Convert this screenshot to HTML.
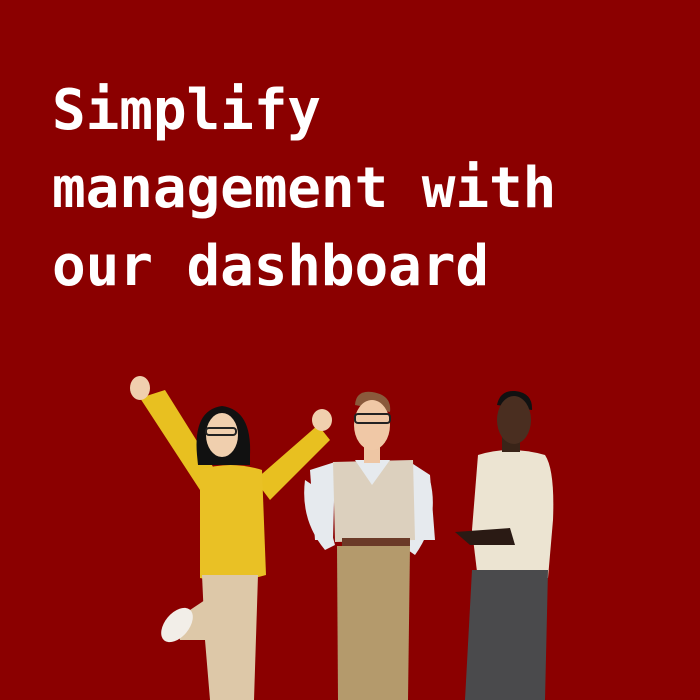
<!DOCTYPE html>
<html><head><meta charset="utf-8"><style>
html,body{margin:0;padding:0}
body{width:700px;height:700px;background:#8b0000;position:relative;overflow:hidden}
.t{position:absolute;left:52px;top:72px;color:#fff;font-family:"DejaVu Sans Mono","Liberation Mono",monospace;font-weight:bold;font-size:56px;line-height:78px;letter-spacing:-0.1px;white-space:pre}
svg{position:absolute;left:0;top:0}
</style></head><body>
<div class="t">Simplify
management with
our dashboard</div>
<svg width="700" height="700" viewBox="0 0 700 700">
<path d="M140 398 L165 390 L215 470 L200 490 Z" fill="#e8c020"/>
<path d="M318 425 L330 440 L270 500 L255 480 Z" fill="#e8c020"/>
<ellipse cx="140" cy="388" rx="10" ry="12" fill="#f0cfae"/>
<ellipse cx="322" cy="420" rx="10" ry="11" fill="#f0cfae"/>
<path d="M200 470 Q230 460 262 470 L266 575 Q232 585 200 578 Z" fill="#e9c125"/>
<path d="M202 575 L258 575 L254 700 L210 700 L205 640 Z" fill="#ddc8a8"/>
<path d="M205 600 L215 640 L180 640 L175 620 Z" fill="#ddc8a8"/>
<ellipse cx="177" cy="625" rx="12" ry="20" transform="rotate(40 177 625)" fill="#f2eee8"/>
<path d="M197 455 Q193 410 222 406 Q252 410 250 455 L250 465 L198 465 Z" fill="#111"/>
<ellipse cx="222" cy="435" rx="16" ry="22" fill="#f0cfae"/>
<rect x="206" y="428" width="30" height="7" rx="3" fill="none" stroke="#222" stroke-width="2"/>
<path d="M310 470 L335 462 L333 540 L315 540 Z" fill="#e6eaee"/>
<path d="M410 462 L430 475 L435 540 L415 540 Z" fill="#e6eaee"/>
<path d="M305 480 Q300 520 325 550 L335 545 L320 490 Z" fill="#e6eaee"/>
<path d="M430 480 Q440 520 415 555 L405 548 L420 490 Z" fill="#e6eaee"/>
<path d="M333 462 L413 460 L415 540 L335 542 Z" fill="#dcd0be"/>
<path d="M355 460 L372 485 L390 460 Z" fill="#e6eaee"/>
<rect x="342" y="538" width="68" height="10" fill="#6b3a28"/>
<path d="M337 546 L410 546 L408 700 L338 700 Z" fill="#b49a6c"/>
<rect x="364" y="445" width="16" height="18" fill="#eec6a4"/>
<path d="M355 405 Q356 390 372 392 Q392 395 390 412 Z" fill="#8a5a3c"/>
<ellipse cx="372" cy="425" rx="18" ry="25" fill="#f0c8a6"/>
<rect x="355" y="414" width="35" height="9" rx="3" fill="none" stroke="#222" stroke-width="2"/>
<path d="M478 455 Q510 445 545 455 Q555 470 553 520 L548 578 L478 580 L472 530 Z" fill="#ece4d2"/>
<path d="M472 570 L548 570 L545 700 L465 700 Z" fill="#4a4a4c"/>
<path d="M455 532 L510 528 L515 545 L470 545 Z" fill="#2a1a14"/>
<rect x="502" y="430" width="18" height="22" fill="#3a2418"/>
<path d="M497 405 Q500 390 515 391 Q533 393 532 410 Z" fill="#111"/>
<ellipse cx="514" cy="420" rx="17" ry="24" fill="#4a2e20"/>
</svg>
</body></html>
